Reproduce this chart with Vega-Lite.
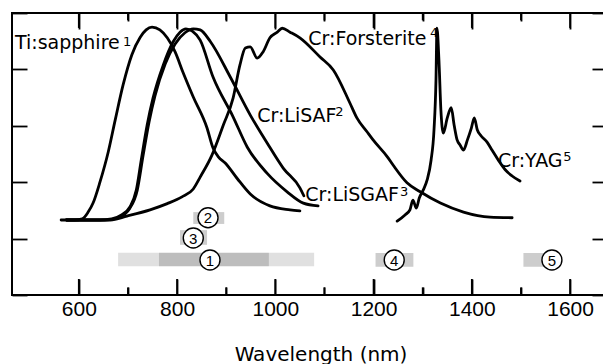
{
  "$schema": "https://vega.github.io/schema/vega-lite/v6.json",
  "width": 592,
  "height": 282,
  "autosize": {"type": "none"},
  "padding": {"left": 12, "top": 13, "right": 0, "bottom": 69},
  "background": "white",
  "config": {
    "view": {"stroke": "black", "strokeWidth": 2},
    "axis": {"grid": false, "domain": false, "tickColor": "black", "tickWidth": 1.8, "tickOpacity": 1}
  },
  "datasets": {
    "curves": [
      {"s": "Ti", "nm": 564, "v": 1.33}, {"s": "Ti", "nm": 592, "v": 1.33}, {"s": "Ti", "nm": 607, "v": 1.35}, {"s": "Ti", "nm": 619, "v": 1.47},
      {"s": "Ti", "nm": 629, "v": 1.63}, {"s": "Ti", "nm": 643, "v": 2.0}, {"s": "Ti", "nm": 660, "v": 2.54}, {"s": "Ti", "nm": 674, "v": 3.1},
      {"s": "Ti", "nm": 690, "v": 3.72}, {"s": "Ti", "nm": 708, "v": 4.26}, {"s": "Ti", "nm": 725, "v": 4.57}, {"s": "Ti", "nm": 737, "v": 4.7},
      {"s": "Ti", "nm": 749, "v": 4.75}, {"s": "Ti", "nm": 765, "v": 4.7}, {"s": "Ti", "nm": 780, "v": 4.56}, {"s": "Ti", "nm": 796, "v": 4.31},
      {"s": "Ti", "nm": 812, "v": 3.95}, {"s": "Ti", "nm": 833, "v": 3.51}, {"s": "Ti", "nm": 861, "v": 2.96}, {"s": "Ti", "nm": 873, "v": 2.61},
      {"s": "Ti", "nm": 884, "v": 2.45}, {"s": "Ti", "nm": 898, "v": 2.34}, {"s": "Ti", "nm": 922, "v": 2.07}, {"s": "Ti", "nm": 949, "v": 1.79},
      {"s": "Ti", "nm": 989, "v": 1.58}, {"s": "Ti", "nm": 1030, "v": 1.51}, {"s": "Ti", "nm": 1050, "v": 1.49},

      {"s": "LiSGAF", "nm": 575, "v": 1.33}, {"s": "LiSGAF", "nm": 643, "v": 1.33}, {"s": "LiSGAF", "nm": 667, "v": 1.35}, {"s": "LiSGAF", "nm": 687, "v": 1.42},
      {"s": "LiSGAF", "nm": 704, "v": 1.56}, {"s": "LiSGAF", "nm": 717, "v": 1.86}, {"s": "LiSGAF", "nm": 727, "v": 2.39}, {"s": "LiSGAF", "nm": 739, "v": 3.01},
      {"s": "LiSGAF", "nm": 751, "v": 3.49}, {"s": "LiSGAF", "nm": 772, "v": 4.08}, {"s": "LiSGAF", "nm": 792, "v": 4.49}, {"s": "LiSGAF", "nm": 806, "v": 4.66},
      {"s": "LiSGAF", "nm": 818, "v": 4.72}, {"s": "LiSGAF", "nm": 831, "v": 4.68}, {"s": "LiSGAF", "nm": 847, "v": 4.52}, {"s": "LiSGAF", "nm": 873, "v": 3.87},
      {"s": "LiSGAF", "nm": 914, "v": 3.16}, {"s": "LiSGAF", "nm": 943, "v": 2.62}, {"s": "LiSGAF", "nm": 983, "v": 2.16}, {"s": "LiSGAF", "nm": 1024, "v": 1.83},
      {"s": "LiSGAF", "nm": 1057, "v": 1.63}, {"s": "LiSGAF", "nm": 1087, "v": 1.58},

      {"s": "LiSAF", "nm": 575, "v": 1.33}, {"s": "LiSAF", "nm": 654, "v": 1.33}, {"s": "LiSAF", "nm": 680, "v": 1.37}, {"s": "LiSAF", "nm": 704, "v": 1.54},
      {"s": "LiSAF", "nm": 719, "v": 1.86}, {"s": "LiSAF", "nm": 731, "v": 2.48}, {"s": "LiSAF", "nm": 743, "v": 3.07}, {"s": "LiSAF", "nm": 755, "v": 3.53},
      {"s": "LiSAF", "nm": 776, "v": 4.1}, {"s": "LiSAF", "nm": 796, "v": 4.45}, {"s": "LiSAF", "nm": 816, "v": 4.65}, {"s": "LiSAF", "nm": 833, "v": 4.72},
      {"s": "LiSAF", "nm": 847, "v": 4.7}, {"s": "LiSAF", "nm": 868, "v": 4.49}, {"s": "LiSAF", "nm": 908, "v": 3.87}, {"s": "LiSAF", "nm": 949, "v": 3.19},
      {"s": "LiSAF", "nm": 983, "v": 2.7}, {"s": "LiSAF", "nm": 1016, "v": 2.25}, {"s": "LiSAF", "nm": 1050, "v": 1.9}, {"s": "LiSAF", "nm": 1058, "v": 1.76},

      {"s": "Fo", "nm": 575, "v": 1.33}, {"s": "Fo", "nm": 664, "v": 1.33}, {"s": "Fo", "nm": 698, "v": 1.4}, {"s": "Fo", "nm": 745, "v": 1.51},
      {"s": "Fo", "nm": 780, "v": 1.62}, {"s": "Fo", "nm": 810, "v": 1.74}, {"s": "Fo", "nm": 833, "v": 1.88}, {"s": "Fo", "nm": 847, "v": 2.09},
      {"s": "Fo", "nm": 871, "v": 2.48}, {"s": "Fo", "nm": 894, "v": 3.01}, {"s": "Fo", "nm": 914, "v": 3.49}, {"s": "Fo", "nm": 928, "v": 4.08},
      {"s": "Fo", "nm": 939, "v": 4.38}, {"s": "Fo", "nm": 949, "v": 4.4}, {"s": "Fo", "nm": 963, "v": 4.2}, {"s": "Fo", "nm": 975, "v": 4.31},
      {"s": "Fo", "nm": 989, "v": 4.56}, {"s": "Fo", "nm": 1004, "v": 4.66}, {"s": "Fo", "nm": 1014, "v": 4.73}, {"s": "Fo", "nm": 1030, "v": 4.66},
      {"s": "Fo", "nm": 1050, "v": 4.56}, {"s": "Fo", "nm": 1091, "v": 4.22}, {"s": "Fo", "nm": 1118, "v": 3.99}, {"s": "Fo", "nm": 1152, "v": 3.4},
      {"s": "Fo", "nm": 1166, "v": 3.14}, {"s": "Fo", "nm": 1187, "v": 2.89}, {"s": "Fo", "nm": 1199, "v": 2.75}, {"s": "Fo", "nm": 1228, "v": 2.45},
      {"s": "Fo", "nm": 1240, "v": 2.3}, {"s": "Fo", "nm": 1268, "v": 1.99}, {"s": "Fo", "nm": 1295, "v": 1.83}, {"s": "Fo", "nm": 1336, "v": 1.63},
      {"s": "Fo", "nm": 1383, "v": 1.47}, {"s": "Fo", "nm": 1437, "v": 1.38}, {"s": "Fo", "nm": 1482, "v": 1.37},

      {"s": "YAG", "nm": 1248, "v": 1.31}, {"s": "YAG", "nm": 1264, "v": 1.42}, {"s": "YAG", "nm": 1274, "v": 1.51}, {"s": "YAG", "nm": 1280, "v": 1.68},
      {"s": "YAG", "nm": 1287, "v": 1.54}, {"s": "YAG", "nm": 1293, "v": 1.72}, {"s": "YAG", "nm": 1301, "v": 1.86}, {"s": "YAG", "nm": 1309, "v": 2.04},
      {"s": "YAG", "nm": 1317, "v": 2.39}, {"s": "YAG", "nm": 1323, "v": 2.93}, {"s": "YAG", "nm": 1327, "v": 3.81}, {"s": "YAG", "nm": 1329, "v": 4.73},
      {"s": "YAG", "nm": 1333, "v": 4.17}, {"s": "YAG", "nm": 1337, "v": 3.28}, {"s": "YAG", "nm": 1342, "v": 2.87}, {"s": "YAG", "nm": 1350, "v": 3.14},
      {"s": "YAG", "nm": 1358, "v": 3.32}, {"s": "YAG", "nm": 1364, "v": 3.01}, {"s": "YAG", "nm": 1370, "v": 2.75}, {"s": "YAG", "nm": 1376, "v": 2.66},
      {"s": "YAG", "nm": 1383, "v": 2.57}, {"s": "YAG", "nm": 1391, "v": 2.75}, {"s": "YAG", "nm": 1399, "v": 2.96}, {"s": "YAG", "nm": 1405, "v": 3.14},
      {"s": "YAG", "nm": 1411, "v": 2.93}, {"s": "YAG", "nm": 1419, "v": 2.82}, {"s": "YAG", "nm": 1431, "v": 2.71}, {"s": "YAG", "nm": 1441, "v": 2.57},
      {"s": "YAG", "nm": 1454, "v": 2.39}, {"s": "YAG", "nm": 1468, "v": 2.22}, {"s": "YAG", "nm": 1482, "v": 2.11}, {"s": "YAG", "nm": 1498, "v": 2.02}
    ],
    "bands": [
      {"start": 680, "end": 763, "lo": 0.51, "hi": 0.75, "shade": "light"},
      {"start": 763, "end": 987, "lo": 0.51, "hi": 0.75, "shade": "dark"},
      {"start": 987, "end": 1079, "lo": 0.51, "hi": 0.75, "shade": "light"},
      {"start": 833, "end": 896, "lo": 1.26, "hi": 1.47, "shade": "mid"},
      {"start": 806, "end": 861, "lo": 0.89, "hi": 1.15, "shade": "mid"},
      {"start": 1204, "end": 1281, "lo": 0.5, "hi": 0.745, "shade": "mid"},
      {"start": 1505, "end": 1555, "lo": 0.5, "hi": 0.745, "shade": "mid"}
    ],
    "circles": [
      {"n": "1", "nm": 867, "v": 0.62},
      {"n": "2", "nm": 863, "v": 1.37},
      {"n": "3", "nm": 833, "v": 1.01},
      {"n": "4", "nm": 1242, "v": 0.62},
      {"n": "5", "nm": 1563, "v": 0.62}
    ],
    "labels": [
      {"t": "Ti:sapphire", "nm": 470, "v": 4.36},
      {"t": "Cr:Forsterite", "nm": 1067, "v": 4.43},
      {"t": "Cr:LiSAF", "nm": 963, "v": 3.07},
      {"t": "Cr:LiSGAF", "nm": 1061, "v": 1.67},
      {"t": "Cr:YAG", "nm": 1453, "v": 2.27}
    ],
    "sups": [
      {"t": "1", "nm": 690, "v": 4.42},
      {"t": "4", "nm": 1315, "v": 4.58},
      {"t": "2", "nm": 1122, "v": 3.18},
      {"t": "3", "nm": 1254, "v": 1.76},
      {"t": "5", "nm": 1586, "v": 2.38}
    ],
    "xticks": [
      {"nm": 600, "k": "major"}, {"nm": 700, "k": "minor"}, {"nm": 800, "k": "major"}, {"nm": 900, "k": "minor"},
      {"nm": 1000, "k": "major"}, {"nm": 1100, "k": "minor"}, {"nm": 1200, "k": "major"}, {"nm": 1300, "k": "minor"},
      {"nm": 1400, "k": "major"}, {"nm": 1500, "k": "minor"}, {"nm": 1600, "k": "major"}
    ]
  },
  "resolve": {"axis": {"x": "independent", "y": "independent"}},
  "layer": [
    {
      "data": {"name": "bands"},
      "mark": {"type": "rect"},
      "encoding": {
        "x": {
          "field": "start", "type": "quantitative",
          "scale": {"domain": [464, 1669], "nice": false, "zero": false},
          "axis": {
            "orient": "bottom",
            "offset": -16,
            "values": [600, 800, 1000, 1200, 1400, 1600],
            "format": "d",
            "ticks": true,
            "tickSize": 16,
            "labelPadding": 3.5,
            "labelFont": "Liberation Sans",
            "labelFontSize": 21,
            "labelColor": "black",
            "labelFlush": false,
            "labelOverlap": false,
            "title": "Wavelength (nm)",
            "titleFont": "DejaVu Sans",
            "titleFontSize": 20,
            "titleFontWeight": "normal",
            "titleColor": "black",
            "titleX": 308.5,
            "titleY": 81,
            "titleBaseline": "alphabetic",
            "titleAlign": "center"
          }
        },
        "x2": {"field": "end"},
        "y": {
          "field": "lo", "type": "quantitative",
          "scale": {"domain": [0, 5], "nice": false, "zero": false},
          "axis": {"orient": "left", "values": [0, 1, 2, 3, 4, 5], "tickSize": -15, "labels": false, "title": null}
        },
        "y2": {"field": "hi"},
        "color": {
          "field": "shade", "type": "nominal",
          "scale": {"domain": ["light", "mid", "dark"], "range": ["#e0e0e0", "#cdcdcd", "#bdbdbd"]},
          "legend": null
        }
      }
    },
    {
      "data": {"name": "xticks"},
      "transform": [{"filter": "datum.k === 'major'"}],
      "mark": {"type": "rule", "color": "black", "strokeWidth": 1.8, "opacity": 1},
      "encoding": {
        "x": {"field": "nm", "type": "quantitative", "scale": {"domain": [464, 1669], "nice": false, "zero": false}, "axis": null},
        "y": {"datum": 0, "type": "quantitative", "scale": {"domain": [0, 5], "nice": false, "zero": false}, "axis": null},
        "y2": {"datum": 0.284}
      }
    },
    {
      "data": {"name": "xticks"},
      "transform": [{"filter": "datum.k === 'major'"}],
      "mark": {"type": "rule", "color": "black", "strokeWidth": 1.8, "opacity": 1},
      "encoding": {
        "x": {"field": "nm", "type": "quantitative", "scale": {"domain": [464, 1669], "nice": false, "zero": false}, "axis": null},
        "y": {"datum": 5, "type": "quantitative", "scale": {"domain": [0, 5], "nice": false, "zero": false}, "axis": null},
        "y2": {"datum": 4.735}
      }
    },
    {
      "data": {"name": "xticks"},
      "transform": [{"filter": "datum.k === 'minor'"}],
      "mark": {"type": "rule", "color": "black", "strokeWidth": 1.8, "opacity": 1},
      "encoding": {
        "x": {"field": "nm", "type": "quantitative", "scale": {"domain": [464, 1669], "nice": false, "zero": false}, "axis": null},
        "y": {"datum": 0, "type": "quantitative", "scale": {"domain": [0, 5], "nice": false, "zero": false}, "axis": null},
        "y2": {"datum": 0.135}
      }
    },
    {
      "data": {"name": "xticks"},
      "transform": [{"filter": "datum.k === 'minor'"}],
      "mark": {"type": "rule", "color": "black", "strokeWidth": 1.8, "opacity": 1},
      "encoding": {
        "x": {"field": "nm", "type": "quantitative", "scale": {"domain": [464, 1669], "nice": false, "zero": false}, "axis": null},
        "y": {"datum": 5, "type": "quantitative", "scale": {"domain": [0, 5], "nice": false, "zero": false}, "axis": null},
        "y2": {"datum": 4.87}
      }
    },
    {
      "data": {"name": "curves"},
      "mark": {"type": "line", "interpolate": "monotone", "strokeWidth": 2.8, "color": "black", "strokeJoin": "round", "strokeCap": "round"},
      "encoding": {
        "x": {
          "field": "nm", "type": "quantitative",
          "scale": {"domain": [464, 1669], "nice": false, "zero": false},
          "axis": {"orient": "top", "offset": -16, "values": [600, 800, 1000, 1200, 1400, 1600], "ticks": true, "tickSize": 16, "labels": false, "title": null}
        },
        "y": {
          "field": "v", "type": "quantitative",
          "scale": {"domain": [0, 5], "nice": false, "zero": false},
          "axis": {"orient": "right", "values": [0, 1, 2, 3, 4, 5], "tickSize": -12, "labels": false, "title": null}
        },
        "detail": {"field": "s", "type": "nominal"}
      }
    },
    {
      "data": {"name": "circles"},
      "mark": {"type": "point", "shape": "circle", "filled": false, "fill": "white", "fillOpacity": 1, "stroke": "black", "strokeWidth": 1.4, "size": 400, "opacity": 1},
      "encoding": {
        "x": {
          "field": "nm", "type": "quantitative",
          "scale": {"domain": [464, 1669], "nice": false, "zero": false},
          "axis": {"orient": "bottom", "offset": -8, "values": [700, 900, 1100, 1300, 1500], "ticks": true, "tickSize": 8, "labels": false, "title": null}
        },
        "y": {"field": "v", "type": "quantitative", "scale": {"domain": [0, 5], "nice": false, "zero": false}, "axis": null}
      }
    },
    {
      "data": {"name": "circles"},
      "mark": {"type": "text", "font": "Liberation Sans", "fontSize": 15, "align": "center", "baseline": "middle", "dy": 0.5, "color": "black"},
      "encoding": {
        "x": {
          "field": "nm", "type": "quantitative",
          "scale": {"domain": [464, 1669], "nice": false, "zero": false},
          "axis": {"orient": "top", "offset": -8, "values": [700, 900, 1100, 1300, 1500], "ticks": true, "tickSize": 8, "labels": false, "title": null}
        },
        "y": {"field": "v", "type": "quantitative", "scale": {"domain": [0, 5], "nice": false, "zero": false}, "axis": null},
        "text": {"field": "n"}
      }
    },
    {
      "data": {"name": "labels"},
      "mark": {"type": "text", "font": "DejaVu Sans", "fontSize": 19, "align": "left", "baseline": "alphabetic", "color": "black"},
      "encoding": {
        "x": {"field": "nm", "type": "quantitative", "scale": {"domain": [464, 1669], "nice": false, "zero": false}, "axis": null},
        "y": {"field": "v", "type": "quantitative", "scale": {"domain": [0, 5], "nice": false, "zero": false}, "axis": null},
        "text": {"field": "t"}
      }
    },
    {
      "data": {"name": "sups"},
      "mark": {"type": "text", "font": "DejaVu Sans", "fontSize": 13, "align": "left", "baseline": "alphabetic", "color": "black"},
      "encoding": {
        "x": {"field": "nm", "type": "quantitative", "scale": {"domain": [464, 1669], "nice": false, "zero": false}, "axis": null},
        "y": {"field": "v", "type": "quantitative", "scale": {"domain": [0, 5], "nice": false, "zero": false}, "axis": null},
        "text": {"field": "t"}
      }
    }
  ]
}
